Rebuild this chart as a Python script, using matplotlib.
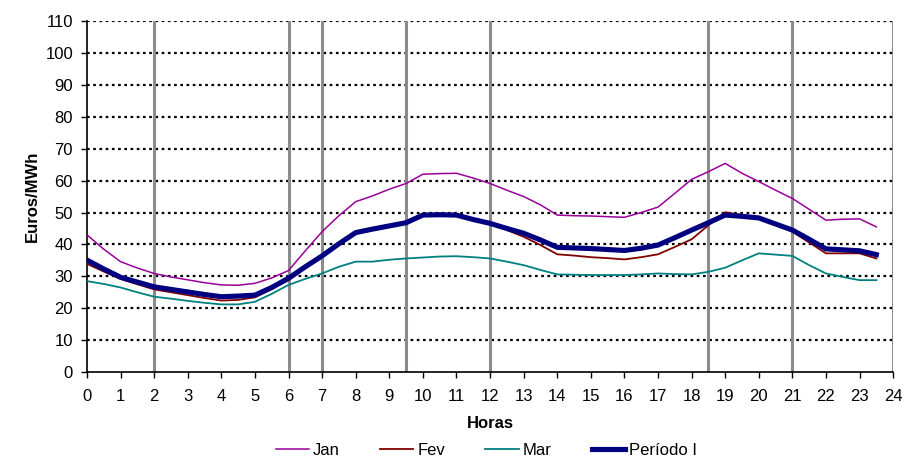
import matplotlib.pyplot as plt

plt.rcParams['font.family'] = ['Liberation Sans', 'DejaVu Sans']

# half-hourly prices, 0h .. 23h30
horas = [h * 0.5 for h in range(48)]

jan = [43.0, 38.5, 34.6, 32.6, 30.9, 29.8, 28.9, 28.0, 27.3, 27.2, 27.8, 29.5,
       31.8, 38.0, 44.0, 49.0, 53.4, 55.2, 57.3, 59.1, 62.0, 62.2, 62.3, 60.8,
       59.1, 57.0, 55.0, 52.4, 49.2, 49.0, 48.9, 48.7, 48.5, 50.0, 51.7, 56.0,
       60.4, 62.8, 65.4, 62.3, 59.7, 57.0, 54.4, 51.0, 47.6, 47.9, 48.0, 45.5]

fev = [33.9, 31.5, 29.2, 27.5, 25.9, 25.0, 24.1, 23.2, 22.4, 22.6, 23.4, 26.0,
       28.8, 32.5, 36.2, 40.0, 43.5, 44.6, 45.6, 46.8, 49.2, 49.3, 49.2, 47.8,
       46.6, 44.5, 42.4, 39.8, 36.9, 36.5, 36.0, 35.7, 35.3, 36.0, 36.9, 39.2,
       41.6, 46.0, 50.1, 49.2, 48.5, 46.2, 44.0, 40.6, 37.2, 37.2, 37.2, 35.6]

mar = [28.5, 27.6, 26.5, 25.0, 23.6, 23.0, 22.3, 21.7, 21.2, 21.2, 22.0, 24.5,
       27.3, 29.2, 30.9, 33.0, 34.6, 34.6, 35.2, 35.6, 35.9, 36.2, 36.3, 36.0,
       35.6, 34.6, 33.5, 32.0, 30.6, 30.5, 30.4, 30.4, 30.4, 30.6, 30.9, 30.7,
       30.6, 31.4, 32.7, 35.0, 37.2, 36.8, 36.4, 33.5, 30.9, 29.8, 28.8, 28.8]

periodo = [35.1, 32.3, 29.7, 28.2, 26.7, 25.9, 25.1, 24.3, 23.6, 23.8, 24.1, 26.5,
           29.4, 33.0, 36.4, 40.2, 43.7, 44.8, 45.8, 46.8, 49.2, 49.3, 49.2, 47.8,
           46.6, 45.0, 43.5, 41.4, 39.1, 38.9, 38.7, 38.4, 38.1, 38.8, 39.8, 42.1,
           44.5, 46.8, 49.2, 48.8, 48.3, 46.4, 44.5, 41.6, 38.6, 38.3, 38.0, 36.8]

# period boundaries
limites = [2, 6, 7, 9.5, 12, 18.5, 21, 24]

fig = plt.figure(figsize=(9.04, 4.59), dpi=100)
ax = fig.add_axes([0.0962, 0.1895, 0.8918, 0.7645])

for y in range(10, 111, 10):
    ax.axhline(y, color='black', lw=1.6, ls=(0, (1.2, 1.6)), zorder=1)
for x in limites:
    ax.axvline(x, color='#8c8c8c', lw=2.2, zorder=1)

ax.plot(horas, jan, color='#990099', lw=1.1, label='Jan', zorder=3)
ax.plot(horas, fev, color='#800000', lw=1.3, label='Fev', zorder=3)
ax.plot(horas, mar, color='#008080', lw=1.3, label='Mar', zorder=3)
ax.plot(horas, periodo, color='#000080', lw=3.7, label='Período I', zorder=4)

ax.set_xlim(0, 24)
ax.set_ylim(0, 110)
ax.set_xticks(range(0, 25))
ax.set_yticks(range(0, 111, 10))
ax.tick_params(labelsize=12, length=4, width=1, direction='out')
ax.tick_params(axis='x', pad=8)
ax.tick_params(axis='y', pad=6)
for s in ['top', 'right']:
    ax.spines[s].set_visible(False)
ax.spines['left'].set_linewidth(1.2)
ax.spines['bottom'].set_linewidth(1.2)

ax.set_xlabel('Horas', fontsize=12, fontweight='bold', labelpad=9)
ax.set_ylabel('Euros/MWh', fontsize=12, fontweight='bold', labelpad=4)

fig.legend(loc='center', bbox_to_anchor=(0.538, 0.018), ncol=4, frameon=False,
           fontsize=12, handlelength=2.0, handletextpad=0.25, columnspacing=2.4)

plt.savefig('out.png', dpi=100)
